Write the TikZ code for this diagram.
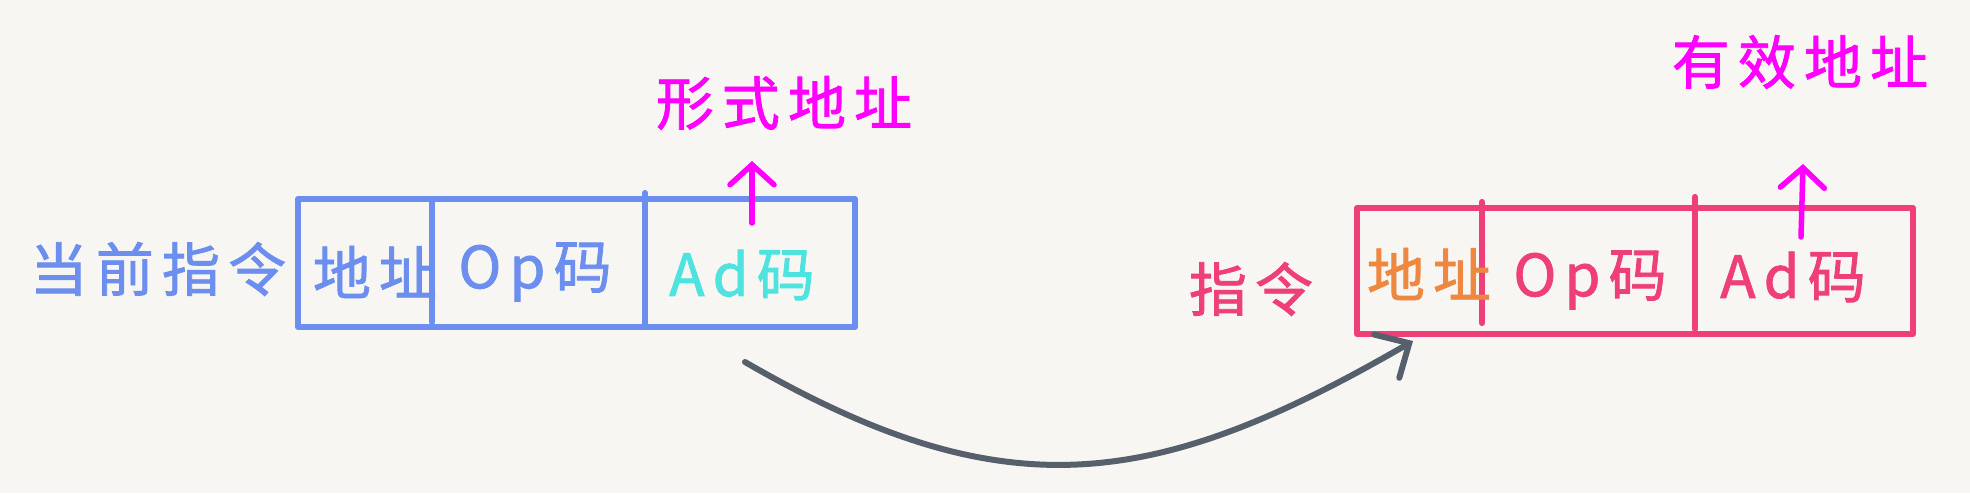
\documentclass[tikz,border=0pt]{standalone}
\usepackage{fontspec}
\newfontfamily\cjk[LetterSpace=14, FakeBold=1.4]{Noto Sans CJK SC}
\usetikzlibrary{arrows.meta}
\definecolor{bg}{HTML}{F7F6F2}
\definecolor{cblue}{HTML}{6B8EEF}
\definecolor{ccyan}{HTML}{4FE3E0}
\definecolor{cmag}{HTML}{FF00FF}
\definecolor{cpink}{HTML}{EE3F78}
\definecolor{corange}{HTML}{EE8840}
\definecolor{cgray}{HTML}{56606C}
\begin{document}
\begin{tikzpicture}[x=1pt,y=-1pt,
  lbl/.style={font=\cjk\fontsize{58}{62}\selectfont, inner sep=0pt},
  boxline/.style={line width=6.2pt, line join=round, line cap=round},
  regbox/.style={boxline, draw, inner sep=0pt, rectangle},
  marrow/.style={draw=cmag, line width=5.5pt, line cap=round, -{Straight Barb[length=20pt,width=44pt,line cap=round]}},
  garrow/.style={draw=cgray, line width=6pt, line cap=round, -{Straight Barb[length=26pt,width=50pt,line cap=round]}},
]
\fill[bg] (0,0) rectangle (1970,493);
\useasboundingbox (0,0) rectangle (1970,493);

% blue register
\node[regbox, draw=cblue, minimum width=557pt, minimum height=128pt] (bbox) at (576.5,263) {};
\draw[boxline, cblue] (432,202) -- (432,322);
\draw[boxline, cblue] (645,193) -- (645,327);
\node[lbl, text=cblue] (cur) at (158,269) {当前指令};
\node[lbl, text=cblue] (b1) at (375,272) {地址};
\node[lbl, text=cblue] (b2) at (535,272) {Op码};
\node[lbl, text=ccyan] (b3) at (742,275) {Ad码};
\node[lbl, text=cmag] (form) at (784,103) {形式地址};

% pink register
\node[regbox, draw=cpink, minimum width=556pt, minimum height=126pt] (pbox) at (1635,271) {};
\draw[boxline, cpink] (1482,202) -- (1482,323);
\draw[boxline, cpink] (1695,197) -- (1695,329);
\node[lbl, text=cpink] (ins) at (1251,289) {指令};
\node[lbl, text=corange] (p1) at (1429,274) {地址};
\node[lbl, text=cpink] (p2) at (1590,280) {Op码};
\node[lbl, text=cpink] (p3) at (1793,277) {Ad码};
\node[lbl, text=cmag] (eff) at (1800,62) {有效地址};

% arrows
\coordinate (fa) at (752,223);
\coordinate (fb) at (752,161);
\draw[marrow] (fa) -- (fb);
\coordinate (ea) at (1801,237);
\coordinate (eb) at (1803,164);
\draw[marrow] (ea) -- (eb);
\coordinate (cs) at (745,362);
\coordinate (ce) at (1413,341);
\draw[garrow] (cs) .. controls +(259,150) and +(-259,150) .. (ce);
\end{tikzpicture}
\end{document}
